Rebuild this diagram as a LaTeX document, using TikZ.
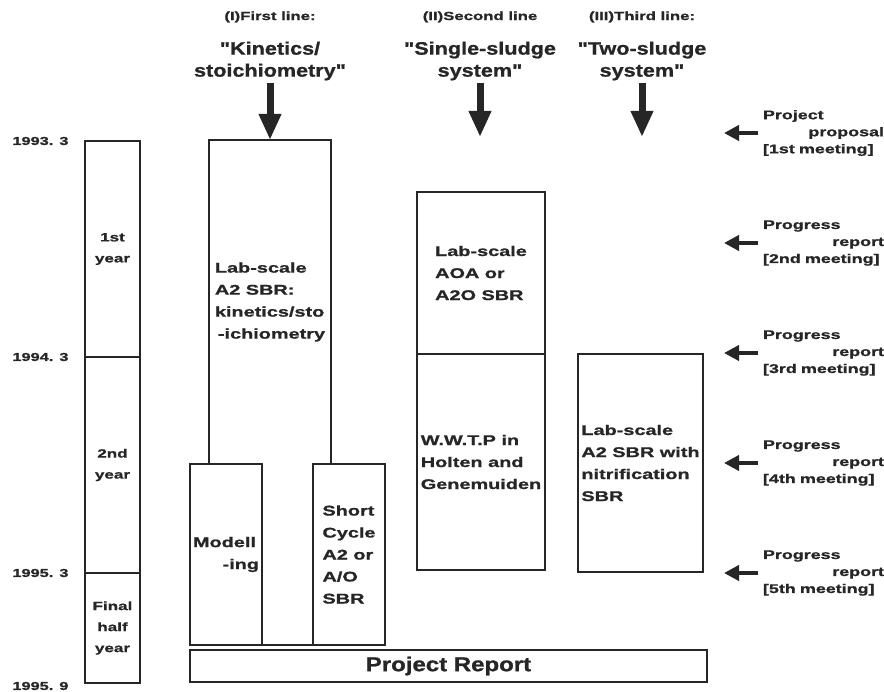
\documentclass[tikz,border=0pt]{standalone}
\usepackage{fontspec}
\setmainfont{Liberation Sans}
\newfontfamily\bodyfont{Liberation Sans}[FakeStretch=1.42, FakeBold=1]
\newfontfamily\headfont{Liberation Sans}[FakeStretch=1.2, FakeBold=1]
\usetikzlibrary{arrows.meta,positioning}
\definecolor{InkGray}{RGB}{38,38,38}

\begin{document}
\begin{tikzpicture}[x=1pt, y=-1pt, every node/.style={text=InkGray},
  box/.style={draw=InkGray, line width=1.3pt, inner sep=2pt, outer sep=0pt, align=left, font=\bodyfont\bfseries\fontsize{14}{22}\selectfont},
  yearbox/.style={box, align=center, minimum width=55pt, font=\bodyfont\bfseries\fontsize{12}{21}\selectfont},
  datelabel/.style={anchor=east, font=\bodyfont\bfseries\fontsize{11.5}{13}\selectfont},
  linehead/.style={align=center, font=\bodyfont\bfseries\fontsize{11.8}{14}\selectfont},
  linetitle/.style={align=center, inner sep=2pt, font=\headfont\bfseries\fontsize{18}{22}\selectfont},
  meeting/.style={align=left, text width=121pt, inner sep=0pt, font=\bodyfont\bfseries\fontsize{12.6}{17}\selectfont},
  downarrow/.style={draw=InkGray, line width=7pt, -{Triangle[length=26pt, width=21pt]}},
  meetarrow/.style={draw=InkGray, line width=4.5pt, -{Triangle[length=15pt, width=15pt]}, shorten <=5pt}]
\fill[white] (0,0) rectangle (884,692);
\useasboundingbox (0,0) rectangle (884,692);

% time line
\node[yearbox, minimum height=216pt] (yr1) at (112.5,249) {1st\\year};
\node[yearbox, minimum height=216pt, below=0pt of yr1] (yr2) {2nd\\year};
\node[yearbox, minimum height=110pt, below=0pt of yr2] (yr3) {Final\\half\\year};

\node[datelabel] (d1) at (72,141) {1993. 3};
\node[datelabel] (d2) at (72,357) {1994. 3};
\node[datelabel] (d3) at (72,573) {1995. 3};
\node[datelabel] (d4) at (72,686) {1995. 9};

% first line
\node[linehead] (l1) at (270,17) {(I)First line:};
\node[linetitle] (t1) at (270,61) {"Kinetics/\\stoichiometry"};
\node[box, draw=none, minimum width=122pt, minimum height=324pt] (kin) at (270,302) {Lab-scale\\A2 SBR:\\kinetics/sto\\\hspace*{3pt}-ichiometry};
\draw[line width=1.3pt, InkGray] (kin.south west) -- (kin.north west) -- (kin.north east) -- (kin.south east);
\node[box, minimum width=72pt, minimum height=181pt, text width=66pt] (model) at (226,554.5) {Modell\\\hspace*{\fill}-ing};
\node[box, minimum width=72pt, minimum height=181pt] (short) at (349,554.5) {Short\\Cycle\\A2 or\\A/O\\SBR};
\draw[line width=1.3pt, InkGray] (model.south east) -- (short.south west);
\draw[downarrow] (t1) -- (kin);

% second line
\node[linehead] (l2) at (480,17) {(II)Second line};
\node[linetitle] (t2) at (480,61) {"Single-sludge\\system"};
\node[box, minimum width=128pt, minimum height=162pt] (aoa) at (481,273) {Lab-scale\\AOA or\\A2O SBR};
\node[box, minimum width=128pt, minimum height=216pt, below=0pt of aoa] (wwtp) {W.W.T.P in\\Holten and\\Genemuiden};
\coordinate (e2) at (480,137);
\draw[downarrow] (t2) -- (e2);

% third line
\node[linehead] (l3) at (642,17) {(III)Third line:};
\node[linetitle] (t3) at (642,61) {"Two-sludge\\system"};
\node[box, minimum width=125pt, minimum height=218pt] (nitri) at (640.5,463) {Lab-scale\\A2 SBR with\\nitrification\\SBR};
\coordinate (e3) at (642,137);
\draw[downarrow] (t3) -- (e3);

\node[box, align=center, minimum width=517pt, minimum height=32pt, font=\headfont\bfseries\fontsize{20}{24}\selectfont] (report) at (448.5,666) {Project Report};

% meetings
\node[meeting] (m1) at (823.5,133) {Project\\\hspace*{\fill}proposal\\{[1st meeting]}};
\node[meeting] (m2) at (823.5,243) {Progress\\\hspace*{\fill}report\\{[2nd meeting]}};
\node[meeting] (m3) at (823.5,353) {Progress\\\hspace*{\fill}report\\{[3rd meeting]}};
\node[meeting] (m4) at (823.5,463) {Progress\\\hspace*{\fill}report\\{[4th meeting]}};
\node[meeting] (m5) at (823.5,573) {Progress\\\hspace*{\fill}report\\{[5th meeting]}};
\coordinate (p1) at (724,133);
\coordinate (p2) at (724,243);
\coordinate (p3) at (724,353);
\coordinate (p4) at (724,463);
\coordinate (p5) at (724,573);
\draw[meetarrow] (m1) -- (p1);
\draw[meetarrow] (m2) -- (p2);
\draw[meetarrow] (m3) -- (p3);
\draw[meetarrow] (m4) -- (p4);
\draw[meetarrow] (m5) -- (p5);
\end{tikzpicture}
\end{document}
